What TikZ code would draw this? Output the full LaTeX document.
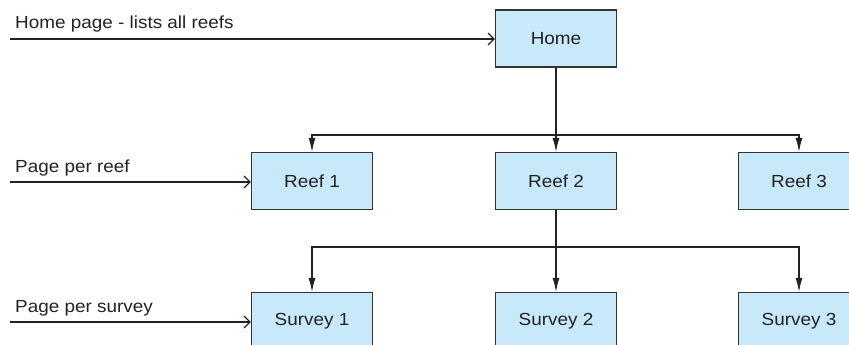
\documentclass[tikz,border=0pt]{standalone}
\usepackage{fontspec}
\setmainfont[FakeStretch=1.08]{Liberation Sans}
\usetikzlibrary{arrows.meta}
\definecolor{boxfill}{HTML}{C8E9F9}
\definecolor{boxline}{HTML}{333333}
\definecolor{ink}{HTML}{222222}
\begin{document}
\begin{tikzpicture}[x=1pt,y=-1pt,
  page/.style={draw=boxline,fill=boxfill,line width=1.2pt,minimum width=121pt,minimum height=57pt,inner sep=0pt,font=\fontsize{17.5}{19}\selectfont,text=ink},
  note/.style={anchor=base west,inner sep=0pt,font=\fontsize{17.5}{19}\selectfont,text=ink},
  link/.style={draw=ink,line width=1.2pt},
  down/.style={link,-{Latex[length=14pt,width=7pt]}},
  entry/.style={link,-{Straight Barb[length=6pt,width=12pt]}}]
\path[use as bounding box] (0,0) rectangle (849,345);
\begin{scope}
\clip (0,0) rectangle (849,345);
% pages of the site
\node[page] (home) at (556,38.5) {Home};
\node[page] (reef1) at (312,181) {Reef 1};
\node[page] (reef2) at (556,181) {Reef 2};
\node[page] (reef3) at (799,181) {Reef 3};
\node[page] (survey1) at (312,321) {Survey 1};
\node[page] (survey2) at (556,321) {Survey 2};
\node[page] (survey3) at (799,321) {Survey 3};
% branch points of the tree
\coordinate (busA) at (556,135);
\coordinate (busB) at (556,247);
\draw[link] (home.south) -- (busA);
\draw[down] (busA) -| (reef1.north);
\draw[down] (busA) -- (reef2.north);
\draw[down] (busA) -| (reef3.north);
\draw[link] (reef2.south) -- (busB);
\draw[down] (busB) -| (survey1.north);
\draw[down] (busB) -- (survey2.north);
\draw[down] (busB) -| (survey3.north);
% entry points with their captions
\coordinate (inHome) at (10,39);
\coordinate (inReef) at (10,182);
\coordinate (inSurvey) at (10,322);
\draw[entry] (inHome) -- (inHome -| home.west);
\draw[entry] (inReef) -- (inReef -| reef1.west);
\draw[entry] (inSurvey) -- (inSurvey -| survey1.west);
\node[note] (capHome) at (15,29) {Home page - lists all reefs};
\node[note] (capReef) at (15,172) {Page per reef};
\node[note] (capSurvey) at (15,312) {Page per survey};
\end{scope}
\end{tikzpicture}
\end{document}
